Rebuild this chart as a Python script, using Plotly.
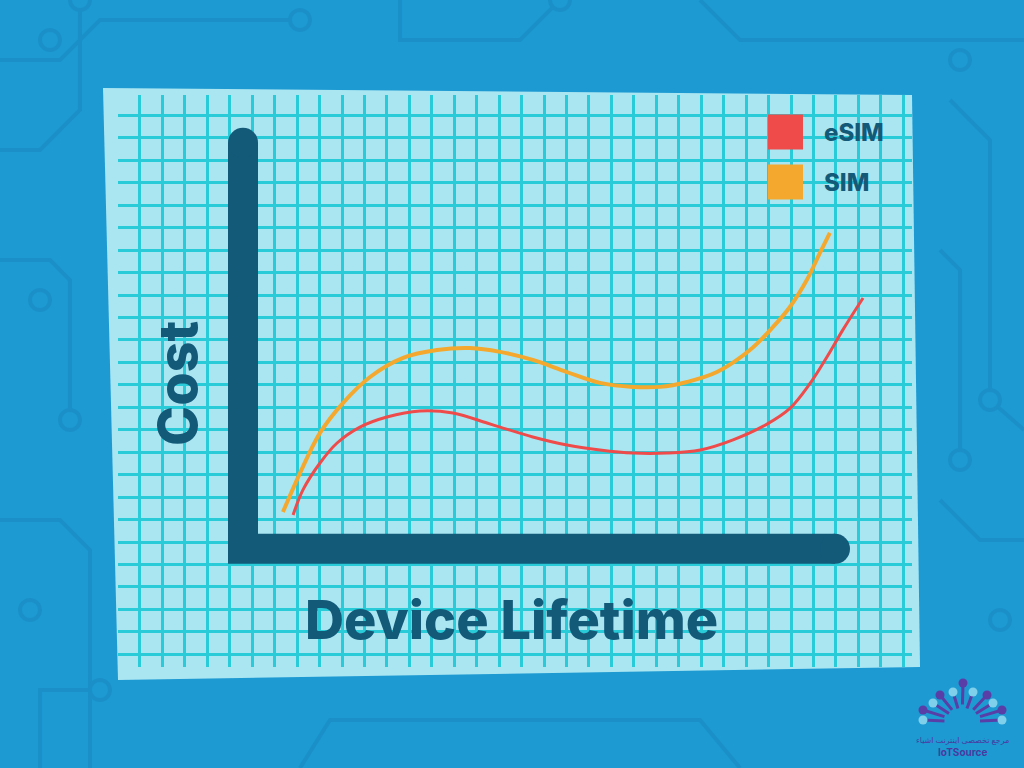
import plotly.graph_objects as go

# ---- data (grid units: one grid square = 1) ----
sim_x = [7.37, 8.13, 9.02, 10.04, 11.25, 12.72, 14.23, 15.70, 17.04, 18.50, 20.02,
         21.49, 22.96, 24.16, 25.37, 26.70, 28.17, 29.20, 29.95, 30.71, 31.29, 31.73]
sim_y = [6.34, 8.07, 9.86, 11.19, 12.35, 13.20, 13.55, 13.64, 13.47, 13.11, 12.57,
         12.09, 11.91, 11.91, 12.13, 12.57, 13.55, 14.58, 15.47, 16.68, 17.88, 18.77]

esim_x = [7.82, 8.26, 9.02, 9.78, 10.80, 12.00, 13.47, 14.94, 16.46, 17.04, 18.50, 20.02,
          21.49, 22.96, 24.48, 25.96, 27.42, 28.93, 29.95, 30.84, 31.60, 32.31, 33.21]
esim_y = [6.20, 7.32, 8.52, 9.41, 10.12, 10.57, 10.84, 10.75, 10.30, 10.12, 9.68, 9.32,
          9.10, 8.96, 8.96, 9.10, 9.55, 10.25, 10.95, 12.05, 13.24, 14.45, 15.87]

series_names = ["eSIM", "SIM"]
series_colors = ["#ef4b4b", "#f5a82e"]

axis_bar_x = [5.59, 5.59, 31.96]
axis_bar_y = [22.78, 4.70, 4.70]

x_title = "Device Lifetime"
y_title = "Cost"
logo_fa = "مرجع تخصصی اینترنت اشیاء"
logo_en = "IoTSource"

X_RANGE = [0.022, 35.39]
Y_RANGE = [-0.566, 24.91]

DARK = "#135a79"
SHEET = "#aae6f2"
GRID = "#29cbd8"
BG = "#1d9ad2"
CIRCUIT = "#1b90c8"
FONT = "Inter, Lato, sans-serif"

ML, MR, MT, MB = 118, 112, 95, 101
PW, PH = 1024 - ML - MR, 768 - MT - MB


def px(x):
    return (x - ML) / PW


def py(y):
    return (768 - MB - y) / PH


fig = go.Figure()

# axis bars
fig.add_trace(go.Scatter(x=axis_bar_x, y=axis_bar_y, mode="lines",
                         line=dict(color=DARK, width=30), hoverinfo="skip", showlegend=False))
fig.add_trace(go.Scatter(x=[axis_bar_x[0], axis_bar_x[-1]], y=[axis_bar_y[0], axis_bar_y[-1]],
                         mode="markers", marker=dict(color=DARK, size=30, line=dict(width=0)),
                         hoverinfo="skip", showlegend=False))

# curves
fig.add_trace(go.Scatter(x=sim_x, y=sim_y, mode="lines", name=series_names[1],
                         line=dict(color=series_colors[1], width=4, shape="spline", smoothing=1.0),
                         showlegend=False))
fig.add_trace(go.Scatter(x=esim_x, y=esim_y, mode="lines", name=series_names[0],
                         line=dict(color=series_colors[0], width=3, shape="spline", smoothing=1.0),
                         showlegend=False))

shapes = []
# faint circuit-board decoration in the background
circuit_paths = [
    [(0, 60), (60, 60), (100, 20), (300, 20)],
    [(0, 150), (40, 150), (80, 110), (80, 0)],
    [(0, 260), (50, 260), (70, 280), (70, 420)],
    [(0, 520), (60, 520), (90, 550), (90, 768)],
    [(40, 768), (40, 690), (100, 690)],
    [(400, 0), (400, 40), (520, 40), (560, 0)],
    [(700, 0), (740, 40), (1024, 40)],
    [(950, 100), (990, 140), (990, 400), (1024, 430)],
    [(940, 500), (980, 540), (1024, 540)],
    [(300, 768), (330, 720), (700, 720), (740, 768)],
    [(940, 250), (960, 270), (960, 460)],
]
for pts in circuit_paths:
    d = "M " + " L ".join(f"{px(a):.4f} {py(b):.4f}" for a, b in pts)
    shapes.append(dict(type="path", xref="paper", yref="paper", path=d,
                       line=dict(color=CIRCUIT, width=4), layer="below"))
for cx, cy in [(300, 20), (80, 0), (70, 420), (100, 690), (560, 0), (990, 400), (960, 460),
               (40, 300), (960, 60), (1000, 620), (30, 610), (50, 40)]:
    r = 10
    shapes.append(dict(type="circle", xref="paper", yref="paper",
                       x0=px(cx - r), x1=px(cx + r), y0=py(cy + r), y1=py(cy - r),
                       line=dict(color=CIRCUIT, width=4), fillcolor=BG, layer="below"))

# sheet of paper (slightly rotated)
sheet_pts = [(103, 88), (912, 95), (920, 667), (118, 680)]
sheet_path = "M " + " L ".join(f"{px(a):.4f} {py(b):.4f}" for a, b in sheet_pts) + " Z"
shapes.append(dict(type="path", xref="paper", yref="paper", path=sheet_path,
                   fillcolor=SHEET, line=dict(width=0), layer="below"))

annotations = []
# legend drawn manually
leg_cy = [132, 182]
for i, (nm, col) in enumerate(zip(series_names, series_colors)):
    shapes.append(dict(type="rect", xref="paper", yref="paper",
                       x0=px(768), x1=px(803), y0=py(leg_cy[i] + 17.5), y1=py(leg_cy[i] - 17.5),
                       fillcolor=col, line=dict(width=0), layer="above"))
    annotations.append(dict(xref="paper", yref="paper", x=px(822), y=py(leg_cy[i]), text=nm,
                            showarrow=False, xanchor="left", yanchor="middle",
                            font=dict(family=FONT, size=24, color=DARK, weight=800)))

# axis titles
annotations.append(dict(xref="paper", yref="paper", x=px(511), y=py(619), text=x_title,
                        showarrow=False, xanchor="center", yanchor="middle",
                        font=dict(family=FONT, size=54, color=DARK, weight=800)))
annotations.append(dict(xref="paper", yref="paper", x=px(177), y=py(384), text=y_title,
                        showarrow=False, xanchor="center", yanchor="middle", textangle=-90,
                        font=dict(family=FONT, size=54, color=DARK, weight=800)))

# logo (bottom right)
logo_dots = [(963, 683, "#5a3ea8"), (953, 692, "#7fd0ea"), (973, 692, "#7fd0ea"),
             (940, 695, "#5a3ea8"), (987, 695, "#5a3ea8"), (933, 703, "#7fd0ea"),
             (993, 703, "#7fd0ea"), (923, 710, "#5a3ea8"), (1002, 710, "#5a3ea8"),
             (923, 720, "#7fd0ea"), (1002, 720, "#7fd0ea")]
for cx, cy, c in logo_dots:
    shapes.append(dict(type="line", xref="paper", yref="paper",
                       x0=px(cx), y0=py(cy), x1=px(962 + (cx - 962) * 0.45), y1=py(722 - (722 - cy) * 0.45),
                       line=dict(color="#5a3ea8", width=3), layer="above"))
    r = 4.5
    shapes.append(dict(type="circle", xref="paper", yref="paper",
                       x0=px(cx - r), x1=px(cx + r), y0=py(cy + r), y1=py(cy - r),
                       fillcolor=c, line=dict(width=0), layer="above"))
annotations.append(dict(xref="paper", yref="paper", x=px(962), y=py(739), text=logo_fa,
                        showarrow=False, xanchor="center", yanchor="middle",
                        font=dict(family="Noto Sans, DejaVu Sans", size=8, color="#4a3aa0")))
annotations.append(dict(xref="paper", yref="paper", x=px(962), y=py(752), text=logo_en,
                        showarrow=False, xanchor="center", yanchor="middle",
                        font=dict(family=FONT, size=10, color="#4a3aa0", weight=700)))

fig.update_layout(
    width=1024, height=768,
    margin=dict(l=ML, r=MR, t=MT, b=MB),
    paper_bgcolor=BG, plot_bgcolor=SHEET,
    shapes=shapes, annotations=annotations,
    showlegend=False,
    xaxis=dict(range=X_RANGE, dtick=1, tick0=0, showgrid=True, gridcolor=GRID, gridwidth=2.5,
               showticklabels=False, zeroline=False, showline=False, ticks=""),
    yaxis=dict(range=Y_RANGE, dtick=1, tick0=0, showgrid=True, gridcolor=GRID, gridwidth=2.5,
               showticklabels=False, zeroline=False, showline=False, ticks=""),
)

fig.write_html("out.html", config={"displayModeBar": False},
               post_script="document.body.style.margin='0';document.body.style.overflow='hidden';")
